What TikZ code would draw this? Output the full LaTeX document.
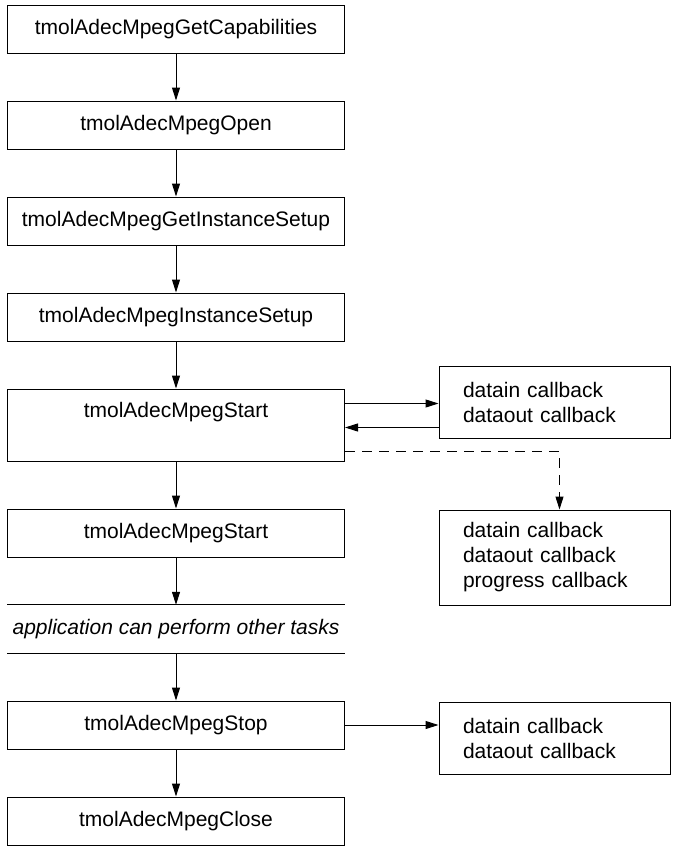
\documentclass[tikz,border=0pt]{standalone}
\usepackage{fontspec}
\setmainfont{Liberation Sans}
\usetikzlibrary{arrows.meta,calc}

\tikzset{
  fn/.style={draw, line width=1pt, minimum width=337pt, minimum height=48pt,
             inner sep=0pt, font=\fontsize{21}{25}\selectfont},
  cb/.style={draw, line width=1pt, minimum width=231pt, minimum height=72pt,
             text width=183pt, inner xsep=24pt, inner ysep=0pt, align=left,
             font=\fontsize{21}{25}\selectfont},
  arr/.style={line width=1pt, -{Triangle[length=13pt,width=8pt]}},
  rule/.style={line width=1pt},
}

\begin{document}
\begin{tikzpicture}[x=1pt,y=-1pt]
  \useasboundingbox (0,0) rectangle (672,846);

  % main call sequence
  \node[fn] (caps)  at (176,29)   {tmolAdecMpegGetCapabilities};
  \node[fn] (open)  at (176,125)  {tmolAdecMpegOpen};
  \node[fn] (gis)   at (176,221)  {tmolAdecMpegGetInstanceSetup};
  \node[fn] (is)    at (176,317)  {tmolAdecMpegInstanceSetup};
  \node[fn, minimum height=72pt] (start) at (176,425) {};
  \node[font=\fontsize{21}{25}\selectfont, inner sep=0pt] (starttxt) at ($(start.north)+(0,24)$) {tmolAdecMpegStart};
  \node[fn] (start2) at (176,533) {tmolAdecMpegStart};
  \node[minimum width=337pt, minimum height=48pt, inner sep=0pt,
        font=\fontsize{21}{25}\selectfont\itshape] (app) at (176,629)
        {application can perform other tasks};
  \node[fn] (stop)  at (176,725)  {tmolAdecMpegStop};
  \node[fn] (close) at (176,821)  {tmolAdecMpegClose};

  % callback boxes
  \node[cb] (cb1) at (554.5,402) {datain callback\\dataout callback};
  \node[cb, minimum height=95pt] (cb2) at (554.5,557.5) {datain callback\\dataout callback\\progress callback};
  \node[cb] (cb3) at (554.5,738) {datain callback\\dataout callback};

  % rules around the free-running section
  \draw[rule] (app.north west) -- (app.north east);
  \draw[rule] (app.south west) -- (app.south east);

  % vertical flow
  \draw[arr] (caps) -- (open);
  \draw[arr] (open) -- (gis);
  \draw[arr] (gis) -- (is);
  \draw[arr] (is) -- (start);
  \draw[arr] (start) -- (start2);
  \draw[arr] (start2) -- (app);
  \draw[arr] (app) -- (stop);
  \draw[arr] (stop) -- (close);

  % callbacks
  \coordinate (outA) at ($(start.north east)+(0,15)$);
  \coordinate (inA)  at ($(start.north east)+(0,39)$);
  \coordinate (dashA) at ($(start.north east)+(0,63)$);
  \coordinate (cb2top) at ($(cb2.north west)+(121,0)$);
  \draw[arr] (outA) -- (outA -| cb1.west);
  \draw[arr] (inA -| cb1.west) -- (inA);
  \draw[arr, dash pattern=on 10pt off 7pt] (dashA) -| (cb2top);
  \draw[arr] (stop.east) -- (stop.east -| cb3.west);
\end{tikzpicture}
\end{document}
